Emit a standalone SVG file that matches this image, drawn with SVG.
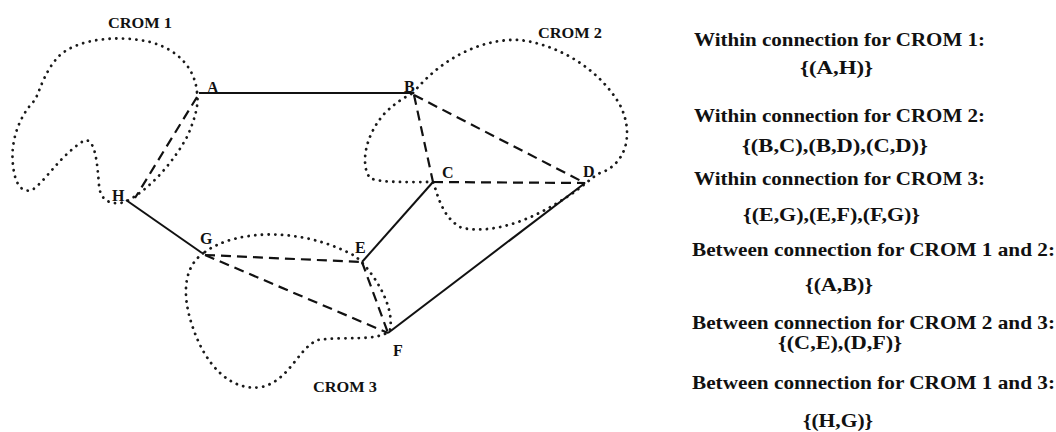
<svg xmlns="http://www.w3.org/2000/svg" width="1056" height="432" viewBox="0 0 1056 432">
<style>
.bg{fill:#fff}
.region{fill:none;stroke:#1a1a1a;stroke-width:2.8;stroke-dasharray:0.1 6.6;stroke-linecap:round}
.solid{fill:none;stroke:#111;stroke-width:2}
.dash{fill:none;stroke:#111;stroke-width:2.2;stroke-dasharray:10 6}
.lbl{font-family:"Liberation Serif",serif;font-size:16px;font-weight:bold;fill:#111}
.crom{font-family:"Liberation Serif",serif;font-size:14px;font-weight:bold;fill:#111}
.txt{font-family:"Liberation Serif",serif;font-size:19px;font-weight:bold;fill:#111}
</style>
<rect class="bg" x="0" y="0" width="1056" height="432"/>
<g id="regions">
<g id="crom1">
<path class="region" d="M197,92 C195,70 180,50 150,42 C120,35 80,38 60,55 C45,70 40,90 35,100 C20,115 10,140 13,165 C15,185 22,193 32,190 C45,182 60,155 85,140 C95,140 97,160 99,185 C100,200 110,206 125,202 C150,190 175,160 188,135 C195,118 199,105 197,92 Z"/>
<text class="crom" x="108" y="28" textLength="64" lengthAdjust="spacingAndGlyphs">CROM 1</text>
</g>
<g id="crom2">
<path class="region" d="M413,93 C440,60 480,38 520,40 C560,45 600,70 620,105 C635,135 625,165 600,173 C592,177 585,185 570,195 C540,215 500,235 462,228 C442,218 438,195 433,182 C410,182 380,183 370,178 C360,165 365,135 385,113 C395,103 405,97 413,93 Z"/>
<text class="crom" x="538" y="38" textLength="64" lengthAdjust="spacingAndGlyphs">CROM 2</text>
</g>
<g id="crom3">
<path class="region" d="M205,252 C235,230 300,226 355,256 C372,270 395,305 390,330 C380,342 345,336 318,340 C298,348 290,380 262,387 C230,392 205,365 192,325 C182,295 183,266 205,252 Z"/>
<text class="crom" x="313" y="392" textLength="64" lengthAdjust="spacingAndGlyphs">CROM 3</text>
</g>
</g>
<g id="connectors">
<line class="solid" x1="199" y1="93" x2="414" y2="93"/>
<line class="solid" x1="126" y1="200" x2="202" y2="253"/>
<line class="solid" x1="433" y1="182" x2="362" y2="262"/>
<line class="solid" x1="585" y1="183" x2="388" y2="333"/>
<line class="dash" x1="197" y1="97" x2="135" y2="198"/>
<line class="dash" x1="414" y1="95" x2="433" y2="182"/>
<line class="dash" x1="414" y1="95" x2="585" y2="183"/>
<line class="dash" x1="433" y1="182" x2="585" y2="183"/>
<line class="dash" x1="205" y1="255" x2="362" y2="262"/>
<line class="dash" x1="205" y1="255" x2="388" y2="333"/>
<line class="dash" x1="362" y1="262" x2="388" y2="333"/>
</g>
<g id="node-A"><text class="lbl" x="207" y="93">A</text></g>
<g id="node-B"><text class="lbl" x="404" y="92">B</text></g>
<g id="node-C"><text class="lbl" x="442" y="178">C</text></g>
<g id="node-D"><text class="lbl" x="583" y="177">D</text></g>
<g id="node-E"><text class="lbl" x="355" y="253">E</text></g>
<g id="node-F"><text class="lbl" x="393" y="356">F</text></g>
<g id="node-G"><text class="lbl" x="200" y="244">G</text></g>
<g id="node-H"><text class="lbl" x="112" y="201">H</text></g>
<g id="legend">
<text class="txt" x="694" y="46" textLength="291" lengthAdjust="spacingAndGlyphs">Within connection for CROM 1:</text>
<text class="txt" x="800" y="74" textLength="73" lengthAdjust="spacingAndGlyphs">{(A,H)}</text>
<text class="txt" x="694" y="122" textLength="291" lengthAdjust="spacingAndGlyphs">Within connection for CROM 2:</text>
<text class="txt" x="742" y="152" textLength="186" lengthAdjust="spacingAndGlyphs">{(B,C),(B,D),(C,D)}</text>
<text class="txt" x="694" y="185" textLength="291" lengthAdjust="spacingAndGlyphs">Within connection for CROM 3:</text>
<text class="txt" x="743" y="221" textLength="177" lengthAdjust="spacingAndGlyphs">{(E,G),(E,F),(F,G)}</text>
<text class="txt" x="692" y="256" textLength="363" lengthAdjust="spacingAndGlyphs">Between connection for CROM 1 and 2:</text>
<text class="txt" x="805" y="291" textLength="68" lengthAdjust="spacingAndGlyphs">{(A,B)}</text>
<text class="txt" x="692" y="329" textLength="363" lengthAdjust="spacingAndGlyphs">Between connection for CROM 2 and 3:</text>
<text class="txt" x="778" y="349" textLength="124" lengthAdjust="spacingAndGlyphs">{(C,E),(D,F)}</text>
<text class="txt" x="692" y="389" textLength="363" lengthAdjust="spacingAndGlyphs">Between connection for CROM 1 and 3:</text>
<text class="txt" x="803" y="427" textLength="70" lengthAdjust="spacingAndGlyphs">{(H,G)}</text>
</g>
</svg>
